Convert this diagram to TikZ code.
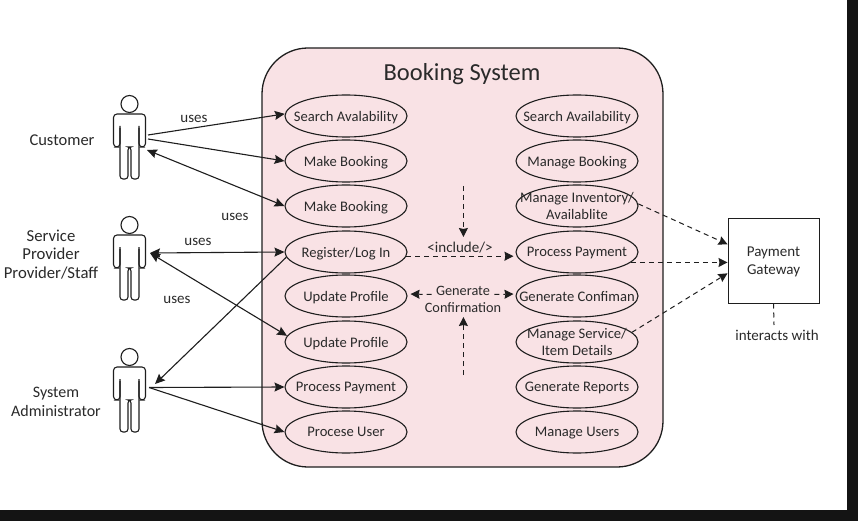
\documentclass[tikz,border=0pt]{standalone}
\usepackage{fontspec}
\setmainfont{Carlito}
\usetikzlibrary{shapes.geometric,arrows.meta}
\definecolor{pinkfill}{HTML}{F9E2E5}
\definecolor{ink}{HTML}{1E1E1E}
\definecolor{txt}{HTML}{2A2A2A}
\tikzset{
  usecase/.style={ellipse,draw=ink,line width=1.1pt,minimum width=122pt,minimum height=42pt,inner xsep=-25pt,inner ysep=-8pt,align=center,text depth=0pt,font=\fontsize{14.6}{16.5}\selectfont,text=txt},
  lbl/.style={inner sep=0pt,align=center,text depth=0pt,font=\fontsize{15}{18}\selectfont,text=txt},
  solidarrow/.style={draw=ink,line width=1.1pt,-{Stealth[length=10pt,width=9pt,inset=1.5pt]}},
  bothways/.style={draw=ink,line width=1.1pt,{Stealth[length=10pt,width=9pt,inset=1.5pt]}-{Stealth[length=10pt,width=9pt,inset=1.5pt]}},
  dasharrow/.style={draw=ink,line width=1pt,dash pattern=on 5pt off 4pt,-{Stealth[length=9pt,width=9pt,inset=1pt]}},
  actorshape/.pic={
    \draw[ink,line width=1.1pt] (0,0) circle (8.5pt);
    \draw[ink,line width=1.1pt,rounded corners=3pt]
      (-9.5,22) -- (-9.5,75) -- (-1.5,75) -- (-1.5,43) -- (1.5,43) -- (1.5,75) -- (9.5,75) -- (9.5,22);
    \draw[ink,line width=1.1pt,rounded corners=3.5pt]
      (-9.5,24) -- (-9.5,43) -- (-16,43) -- (-16,10) -- (16,10) -- (16,43) -- (9.5,43) -- (9.5,24);
  }
}
\begin{document}
\begin{tikzpicture}[x=1pt,y=-1pt]
\useasboundingbox (0,0) rectangle (858,521);
\fill[black!92] (0,0) rectangle (858,521);
\fill[white] (0,0) rectangle (847,510);
\draw[fill=pinkfill,draw=ink,line width=1.3pt,rounded corners=46pt] (262,48) rectangle (663,467);
\node[lbl,font=\fontsize{24.5}{26}\selectfont] (title) at (462,72) {Booking System};

\pic at (129.5,104) {actorshape};
\pic at (129.5,225) {actorshape};
\pic at (129.5,357) {actorshape};
\node[lbl,font=\fontsize{16.5}{18}\selectfont] (customer) at (62,140) {Customer};
\node[lbl,font=\fontsize{16.7}{18.5}\selectfont] (provider) at (51,254) {Service\\Provider\\Provider/Staff};
\node[lbl,font=\fontsize{16}{18.5}\selectfont] (admin) at (56,402) {System\\Administrator};

\node[usecase] (l1) at (346,116) {Search Avalability};
\node[usecase] (l2) at (346,161) {Make Booking};
\node[usecase] (l3) at (346,206) {Make Booking};
\node[usecase] (l4) at (346,252) {Register/Log In};
\node[usecase] (l5) at (346,296) {Update Profile};
\node[usecase] (l6) at (346,342) {Update Profile};
\node[usecase] (l7) at (346,387) {Process Payment};
\node[usecase] (l8) at (346,432) {Procese User};

\node[usecase] (r1) at (577,116) {Search Availability};
\node[usecase] (r2) at (577,161) {Manage Booking};
\node[usecase] (r3) at (577,206) {Manage Inventory/\\Availablite};
\node[usecase] (r4) at (577,252) {Process Payment};
\node[usecase] (r5) at (577,296) {Generate Confiman};
\node[usecase] (r6) at (577,342) {Manage Service/\\Item Details};
\node[usecase] (r7) at (577,387) {Generate Reports};
\node[usecase] (r8) at (577,432) {Manage Users};

\node[draw=ink,line width=1pt,fill=white,minimum width=91pt,minimum height=84pt,inner sep=0pt,align=center,text depth=0pt,font=\fontsize{15}{18}\selectfont,text=txt] (gateway) at (773.5,261) {Payment\\Gateway};
\node[lbl] (interacts) at (777,335) {interacts with};
\node[lbl] (uses1) at (194,119) {uses};
\node[lbl] (uses2) at (235,217) {uses};
\node[lbl] (uses3) at (198,242) {uses};
\node[lbl] (uses4) at (177,300) {uses};
\node[lbl] (include) at (460,247) {<include/>};
\node[lbl,font=\fontsize{14.3}{17}\selectfont] (confirm) at (463,299.5) {Generate\\Confirmation};

\coordinate (c1) at (148,135);
\coordinate (c2) at (148,139);
\coordinate (c3) at (147,150);
\coordinate (s1) at (150,253);
\coordinate (a1) at (155,384);
\coordinate (a2) at (149,387.5);
\coordinate (topfree) at (463.4,186);
\coordinate (botfree) at (463.4,375);
\coordinate (inctip) at (463.4,237);
\coordinate (conftip) at (463.4,317);
\coordinate (intfree) at (774,325);

\draw[solidarrow] (c1) -- (l1.178);
\draw[solidarrow] (c2) -- (l2.west);
\draw[bothways] (c3) -- (l3.west);
\draw[bothways] (s1) -- (l4.west);
\draw[bothways] (s1) -- (l6.174);
\draw[solidarrow] (l4.185) -- (a1);
\draw[solidarrow] (a2) -- (l7.west);
\draw[solidarrow] (a2) -- (l8.west);

\draw[dasharrow] (topfree) -- (inctip);
\draw[dasharrow] (botfree) -- (conftip);
\draw[dasharrow,shorten >=2pt] (l4.-4) -- (r4.west |- l4.-4);
\draw[dasharrow,shorten >=3pt] ([xshift=7pt,yshift=5pt]confirm.west) -- ([yshift=2pt]l5.east);
\draw[dasharrow,shorten >=2pt] ([xshift=-7pt,yshift=5pt]confirm.east) -- ([yshift=2pt]r5.west);
\draw[dasharrow] (r3.2) -- (gateway.160);
\draw[dasharrow] (r4.-11) -- (gateway.west |- r4.-11);
\draw[dasharrow] (r6.10) -- (gateway.195);
\draw[draw=ink,line width=1pt,dash pattern=on 5pt off 4pt] (gateway.south) -- (intfree);
\end{tikzpicture}
\end{document}
